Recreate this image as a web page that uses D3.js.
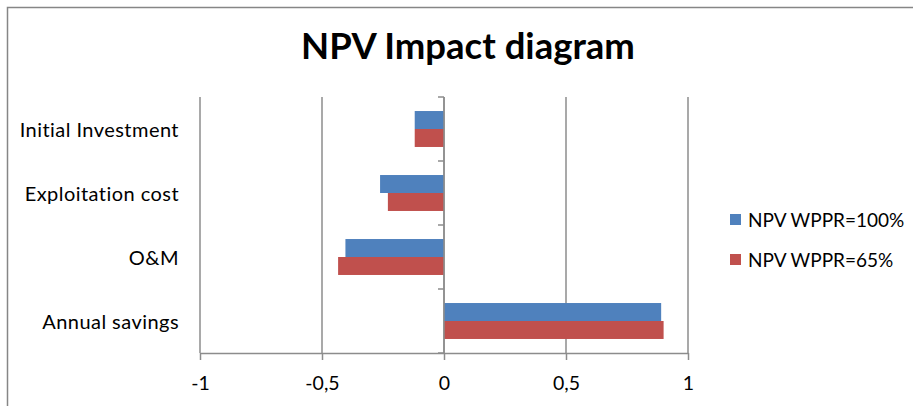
<!DOCTYPE html>
<html>
<head>
<meta charset="utf-8">
<script src="https://cdn.jsdelivr.net/npm/d3@7"></script>
<style>
  body { margin: 0; background: #fff; }
  svg { display: block; font-family: Lato, "Open Sans", sans-serif; }
</style>
</head>
<body>
<svg id="chart" width="913" height="406"></svg>
<script>
// Categories, top to bottom
const categories = ["Initial Investment", "Exploitation cost", "O&M", "Annual savings"];
const seriesNames = ["NPV WPPR=100%", "NPV WPPR=65%"];
const npv100 = [-0.12, -0.262, -0.404, 0.89];
const npv65 = [-0.12, -0.23, -0.434, 0.90];
const xTicks = [-1, -0.5, 0, 0.5, 1];
const xTickLabels = ["-1", "-0,5", "0", "0,5", "1"];
const colors = ["#4f81bd", "#c0504d"];

const svg = d3.select("#chart");

// Outer chart frame
svg.append("rect")
  .attr("x", 7.5).attr("y", 7.5)
  .attr("width", 930).attr("height", 420)
  .attr("fill", "#fff").attr("stroke", "#868686").attr("stroke-width", 1.5);

// Title
svg.append("text")
  .attr("x", 468).attr("y", 59)
  .attr("text-anchor", "middle")
  .attr("font-size", 36.5).attr("font-weight", "bold")
  .attr("fill", "#000")
  .text("NPV Impact diagram");

const plot = { left: 200, right: 688, top: 97, bottom: 353 };

const x = d3.scaleLinear().domain([-1, 1]).range([plot.left, plot.right]);
const y = d3.scaleBand().domain(categories).range([plot.top, plot.bottom]).paddingInner(0).paddingOuter(0);
const inner = d3.scaleBand().domain([0, 1]).range([0, y.bandwidth()]).paddingInner(0).paddingOuter(0.78);

// Vertical gridlines
svg.append("g").selectAll("line")
  .data(xTicks)
  .join("line")
  .attr("x1", d => x(d)).attr("x2", d => x(d))
  .attr("y1", plot.top).attr("y2", plot.bottom)
  .attr("stroke", "#8c8c8c").attr("stroke-width", 1.5);

// Bars
const series = [npv100, npv65];
series.forEach((vals, si) => {
  svg.append("g").selectAll("rect")
    .data(vals)
    .join("rect")
    .attr("x", d => Math.min(x(0), x(d)))
    .attr("width", d => Math.abs(x(d) - x(0)))
    .attr("y", (d, i) => y(categories[i]) + inner(si))
    .attr("height", inner.bandwidth())
    .attr("fill", colors[si]);
});

// Bottom axis
const xAxis = d3.axisBottom(x)
  .tickValues(xTicks)
  .tickFormat((d, i) => xTickLabels[i])
  .tickSize(7).tickSizeOuter(0).tickPadding(16);
const gx = svg.append("g").attr("transform", `translate(0,${plot.bottom})`).call(xAxis);
gx.select(".domain").attr("stroke", "#8c8c8c").attr("stroke-width", 1.5);
gx.selectAll(".tick line").attr("stroke", "#8c8c8c").attr("stroke-width", 1.5);
gx.selectAll(".tick text").attr("font-size", 19.5).attr("fill", "#000")
  .attr("font-family", "Lato, sans-serif");

// Category axis at zero
const yTickPos = d3.range(categories.length + 1).map(i => plot.top + i * y.step());
const gy = svg.append("g");
gy.append("line")
  .attr("x1", x(0)).attr("x2", x(0))
  .attr("y1", plot.top).attr("y2", plot.bottom)
  .attr("stroke", "#8c8c8c").attr("stroke-width", 1.5);
gy.selectAll("line.tick")
  .data(yTickPos)
  .join("line")
  .attr("class", "tick")
  .attr("x1", x(0) - 6).attr("x2", x(0))
  .attr("y1", d => d).attr("y2", d => d)
  .attr("stroke", "#8c8c8c").attr("stroke-width", 1.5);

// Category labels
svg.append("g").selectAll("text")
  .data(categories)
  .join("text")
  .attr("x", 179)
  .attr("y", d => y(d) + y.bandwidth() / 2 + 7.5)
  .attr("text-anchor", "end")
  .attr("font-size", 20).attr("letter-spacing", 0.45).attr("fill", "#000")
  .text(d => d);

// Legend
const legend = svg.append("g");
seriesNames.forEach((name, i) => {
  const ly = 220 + i * 40;
  legend.append("rect")
    .attr("x", 730).attr("y", ly - 6)
    .attr("width", 11).attr("height", 11)
    .attr("fill", colors[i]);
  legend.append("text")
    .attr("x", 748).attr("y", ly + 6.5)
    .attr("font-size", 19).attr("fill", "#000")
    .text(name);
});
</script>
</body>
</html>
